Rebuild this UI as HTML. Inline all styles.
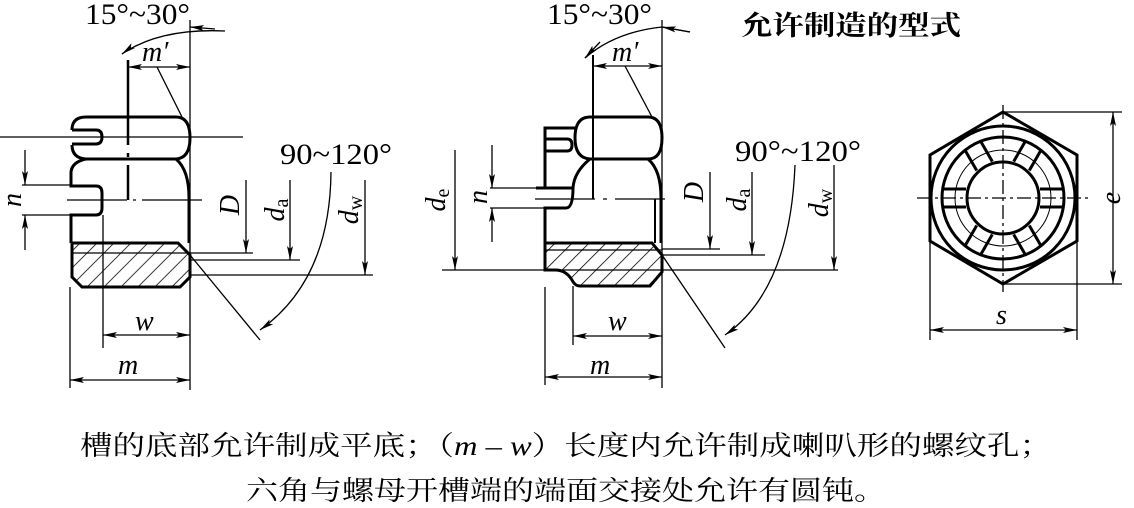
<!DOCTYPE html>
<html><head><meta charset="utf-8"><style>
html,body{margin:0;padding:0;background:#fff;}
svg{display:block;}
.t{font-family:"Liberation Serif","DejaVu Serif",serif;font-size:30px;fill:#000;}
.i{font-family:"Liberation Serif","DejaVu Serif",serif;font-style:italic;font-size:28px;fill:#000;}
.c{font-family:"Liberation Serif","Noto Serif CJK SC",serif;font-size:27px;fill:#000;}
</style></head><body>
<svg width="1134" height="508" viewBox="0 0 1134 508" xmlns="http://www.w3.org/2000/svg">
<defs>
<marker id="a" viewBox="0 0 14 6" refX="14" refY="3" markerWidth="14" markerHeight="6" markerUnits="userSpaceOnUse" orient="auto-start-reverse"><path d="M0,0 L14,3 L0,6 L3,3 Z" fill="#000"/></marker>
<pattern id="h" width="12" height="12" patternUnits="userSpaceOnUse" patternTransform="rotate(45)"><line x1="0" y1="0" x2="0" y2="12" stroke="#000" stroke-width="1.6"/></pattern>
</defs>
<g fill="none" stroke="#000" stroke-width="1.3">
<!-- LEFT NUT -->
<path d="M72,243 L178,243 L190,255 L190,277 L180,287 L82,287 L72,277 Z" fill="url(#h)" stroke-width="3"/>
<line x1="72" y1="253" x2="190" y2="253"/>
<path d="M86,117 L176,117 Q190,117 190,138 Q190,158 176,159 L86,159 Q72,158 72,145 M72,130 Q72,117 86,117" stroke-width="3"/>
<path d="M72,130 L96,130 Q102,130 102,137 Q102,144 96,144 L72,144" stroke-width="3"/>
<path d="M86,159 Q72,162 71,172 L71,186 L96,186 Q102,186 102,193 L102,208 Q102,215 96,215 L71,215 L71,243" stroke-width="3"/>
<path d="M176,159 Q189,170 189,198 L189,243" stroke-width="3"/>
<line x1="0" y1="137" x2="243" y2="137"/>
<line x1="67" y1="200" x2="205" y2="200" stroke-dasharray="60,6,3,6,60"/>
<line x1="128" y1="60" x2="128" y2="200" stroke-width="2.5" stroke-dasharray="85,8,4,8,40"/>
<line x1="190" y1="20" x2="190" y2="390"/>
<line x1="70" y1="287" x2="70" y2="388"/>
<line x1="103" y1="215" x2="103" y2="348"/>
<line x1="128" y1="67" x2="190" y2="67" marker-start="url(#a)" marker-end="url(#a)"/>
<line x1="157" y1="67" x2="182" y2="117"/>
<path d="M122,54 Q160,28 225,31"/>
<path d="M130,48 L122,54" marker-end="url(#a)"/>
<path d="M215,29 L190,27" marker-end="url(#a)"/>
<line x1="25" y1="150" x2="25" y2="185" marker-end="url(#a)"/>
<line x1="25" y1="250" x2="25" y2="215" marker-end="url(#a)"/>
<line x1="22" y1="185" x2="72" y2="185"/>
<line x1="22" y1="215" x2="72" y2="215"/>
<line x1="190" y1="253" x2="253" y2="253"/>
<line x1="190" y1="260" x2="300" y2="260"/>
<line x1="190" y1="275" x2="373" y2="275"/>
<line x1="246" y1="180" x2="246" y2="253" marker-end="url(#a)"/>
<line x1="290" y1="180" x2="290" y2="260" marker-end="url(#a)"/>
<line x1="365" y1="180" x2="365" y2="275" marker-end="url(#a)"/>
<line x1="190" y1="255" x2="260" y2="340"/>
<path d="M331,172 Q330,280 260,330" marker-end="url(#a)"/>
<line x1="103" y1="335" x2="190" y2="335" marker-start="url(#a)" marker-end="url(#a)"/>
<line x1="70" y1="380" x2="190" y2="380" marker-start="url(#a)" marker-end="url(#a)"/>

<!-- MIDDLE NUT -->
<path d="M545,243 L652,243 L662,255 L662,272 L650,286 L580,286 Q575,286 572,280 Q566,270 555,270 L545,270 Z" fill="url(#h)" stroke-width="3"/>
<line x1="545" y1="250" x2="662" y2="250"/>
<path d="M590,117 L648,117 Q662,117 662,138 Q662,159 648,159 L590,159 Q575,158 575,138 Q575,117 590,117 Z" stroke-width="3"/>
<path d="M575,128 L545,128 L545,188" stroke-width="3"/>
<path d="M545,139 L567,139 Q572,139 572,145 Q572,151 567,151 L545,151" stroke-width="3"/>
<path d="M590,159 Q574,172 573,188 Q573,208 566,208 L545,208 L545,243" stroke-width="3"/>
<path d="M536,188 L573,188" stroke-width="3"/>
<path d="M648,159 Q661,170 661,198 L661,243" stroke-width="3"/>
<line x1="655" y1="199" x2="655" y2="243" stroke-width="2"/>
<line x1="535" y1="199" x2="665" y2="199" stroke-dasharray="60,8,4,8,70"/>
<line x1="593" y1="55" x2="593" y2="199" stroke-width="2"/>
<line x1="662" y1="20" x2="662" y2="388"/>
<line x1="545" y1="287" x2="545" y2="385"/>
<line x1="573" y1="286" x2="573" y2="345"/>
<line x1="593" y1="66" x2="662" y2="66" marker-start="url(#a)" marker-end="url(#a)"/>
<line x1="625" y1="66" x2="652" y2="117"/>
<path d="M585,58 Q615,32 662,27 L690,32"/>
<path d="M600,42 L585,58" marker-end="url(#a)"/>
<path d="M690,32 L662,27" marker-end="url(#a)"/>
<line x1="492" y1="145" x2="492" y2="188" marker-end="url(#a)"/>
<line x1="492" y1="242" x2="492" y2="208" marker-end="url(#a)"/>
<line x1="490" y1="188" x2="545" y2="188"/>
<line x1="490" y1="208" x2="545" y2="208"/>
<line x1="455" y1="150" x2="455" y2="270" marker-end="url(#a)"/>
<line x1="442" y1="270" x2="838" y2="270"/>
<line x1="662" y1="249" x2="720" y2="249"/>
<line x1="662" y1="255" x2="765" y2="255"/>
<line x1="710" y1="172" x2="710" y2="249" marker-end="url(#a)"/>
<line x1="752" y1="172" x2="752" y2="255" marker-end="url(#a)"/>
<line x1="834" y1="165" x2="834" y2="270" marker-end="url(#a)"/>
<line x1="662" y1="255" x2="725" y2="348"/>
<path d="M795,165 Q790,290 725,335" marker-end="url(#a)"/>
<line x1="573" y1="336" x2="662" y2="336" marker-start="url(#a)" marker-end="url(#a)"/>
<line x1="545" y1="377" x2="662" y2="377" marker-start="url(#a)" marker-end="url(#a)"/>

<!-- HEX -->
<polygon points="1003,112 1077,155 1077,241 1003,284 930,241 930,155" stroke-width="3"/>
<circle cx="1003" cy="198" r="72" stroke-width="3"/>
<circle cx="1003" cy="198" r="61" stroke-width="3"/>
<circle cx="1003" cy="198" r="48" stroke-width="1"/>
<circle cx="1003" cy="198" r="36" stroke-width="3"/>
<g stroke-width="3">
<g id="sl"><line x1="1040" y1="189" x2="1064" y2="189"/><line x1="1040" y1="207" x2="1064" y2="207"/></g>
<use href="#sl" transform="rotate(60 1003 198)"/>
<use href="#sl" transform="rotate(120 1003 198)"/>
<use href="#sl" transform="rotate(180 1003 198)"/>
<use href="#sl" transform="rotate(240 1003 198)"/>
<use href="#sl" transform="rotate(300 1003 198)"/>
</g>
<line x1="917" y1="198" x2="1090" y2="198" stroke-dasharray="14,4,3,4"/>
<line x1="1003" y1="105" x2="1003" y2="292" stroke-dasharray="14,4,3,4"/>
<line x1="1003" y1="112" x2="1122" y2="112"/>
<line x1="1003" y1="284" x2="1122" y2="284"/>
<line x1="1113" y1="112" x2="1113" y2="284" marker-start="url(#a)" marker-end="url(#a)"/>
<line x1="930" y1="241" x2="930" y2="340"/>
<line x1="1077" y1="241" x2="1077" y2="340"/>
<line x1="930" y1="330" x2="1077" y2="330" marker-start="url(#a)" marker-end="url(#a)"/>
</g>

<text class="t" x="85" y="24" textLength="105" lengthAdjust="spacingAndGlyphs">15°~30°</text>
<text class="i" x="142" y="61" font-size="26">m′</text>
<text class="t" x="280" y="164" textLength="112" lengthAdjust="spacingAndGlyphs">90~120°</text>
<text class="i" x="0" y="0" transform="translate(21,200) rotate(-90)" text-anchor="middle">n</text>
<text class="i" x="0" y="0" transform="translate(239,205) rotate(-90)" text-anchor="middle">D</text>
<text class="i" x="0" y="0" transform="translate(284,210) rotate(-90)" text-anchor="middle">d<tspan font-style="normal" font-size="20" dy="4">a</tspan></text>
<text class="i" x="0" y="0" transform="translate(358,210) rotate(-90)" text-anchor="middle">d<tspan font-style="normal" font-size="20" dy="4">w</tspan></text>
<text class="i" x="135" y="330">w</text>
<text class="i" x="118" y="374">m</text>

<text class="t" x="547" y="24" textLength="105" lengthAdjust="spacingAndGlyphs">15°~30°</text>
<text class="i" x="612" y="61" font-size="26">m′</text>
<text class="t" x="735" y="161" textLength="126" lengthAdjust="spacingAndGlyphs">90°~120°</text>
<text class="i" x="0" y="0" transform="translate(445,200) rotate(-90)" text-anchor="middle">d<tspan font-style="normal" font-size="20" dy="4">e</tspan></text>
<text class="i" x="0" y="0" transform="translate(487,197) rotate(-90)" text-anchor="middle">n</text>
<text class="i" x="0" y="0" transform="translate(703,192) rotate(-90)" text-anchor="middle">D</text>
<text class="i" x="0" y="0" transform="translate(746,200) rotate(-90)" text-anchor="middle">d<tspan font-style="normal" font-size="20" dy="4">a</tspan></text>
<text class="i" x="0" y="0" transform="translate(828,203) rotate(-90)" text-anchor="middle">d<tspan font-style="normal" font-size="20" dy="4">w</tspan></text>
<text class="i" x="608" y="330">w</text>
<text class="i" x="590" y="374">m</text>

<text class="i" x="0" y="0" transform="translate(1120,198) rotate(-90)" text-anchor="middle">e</text>
<text class="i" x="996" y="324">s</text>

<text class="c" x="741" y="35" font-size="29" font-weight="bold" textLength="220" lengthAdjust="spacingAndGlyphs">允许制造的型式</text>
<text class="c" x="80" y="455" textLength="972" lengthAdjust="spacingAndGlyphs">槽的底部允许制成平底；（<tspan font-style="italic">m</tspan> – <tspan font-style="italic">w</tspan>）长度内允许制成喇叭形的螺纹孔；</text>
<text class="c" x="246" y="500" textLength="640" lengthAdjust="spacingAndGlyphs">六角与螺母开槽端的端面交接处允许有圆钝。</text>
</svg>
</body></html>
